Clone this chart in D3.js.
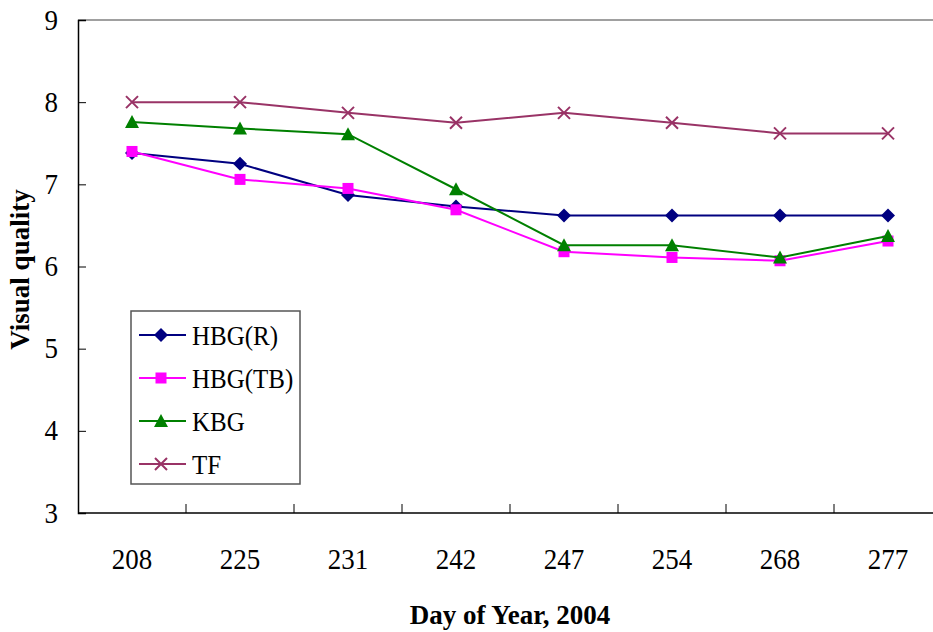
<!DOCTYPE html>
<html>
<head>
<meta charset="utf-8">
<script src="https://cdn.jsdelivr.net/npm/d3@7"></script>
<style>
  body { margin: 0; background: #fff; }
  svg { display: block; }
  svg text { font-family: "Liberation Serif", "Times New Roman", serif; fill: #000; }
</style>
</head>
<body>
<div id="chart"></div>
<script>
const width = 933;
const height = 632;
const margin = {top: 20, bottom: 119, left: 78, right: -9}; // plot runs off the right edge

// data
const days = ["208", "225", "231", "242", "247", "254", "268", "277"];
const hbgR = [7.38, 7.25, 6.87, 6.73, 6.62, 6.62, 6.62, 6.62];
const hbgTB = [7.40, 7.06, 6.95, 6.69, 6.18, 6.11, 6.07, 6.31];
const kbg = [7.76, 7.68, 7.61, 6.94, 6.26, 6.26, 6.11, 6.37];
const tf = [8.00, 8.00, 7.87, 7.75, 7.87, 7.75, 7.62, 7.62];
const yTicks = [3, 4, 5, 6, 7, 8, 9];

const series = [
    {name: "HBG(R)", values: hbgR, color: "#000080", symbol: "diamond"},
    {name: "HBG(TB)", values: hbgTB, color: "#FF00FF", symbol: "square"},
    {name: "KBG", values: kbg, color: "#008000", symbol: "triangle"},
    {name: "TF", values: tf, color: "#993366", symbol: "cross"}
];

const svg = d3.select("#chart").append("svg")
    .attr("width", width)
    .attr("height", height);

const x = d3.scaleBand()
    .domain(days)
    .range([margin.left, width - margin.right]);

const y = d3.scaleLinear()
    .domain([3, 9])
    .range([height - margin.bottom, margin.top]);

// top frame line (gray)
svg.append("line")
    .attr("x1", margin.left).attr("x2", width)
    .attr("y1", margin.top).attr("y2", margin.top)
    .attr("stroke", "#808080").attr("stroke-width", 1.5);

// y axis, ticks pointing inward
const yAxis = svg.append("g")
    .attr("transform", `translate(${margin.left},0)`)
    .call(d3.axisLeft(y).tickValues(yTicks).tickSize(-8).tickPadding(20).tickFormat(d3.format("d")));
yAxis.attr("font-family", null);
yAxis.select(".domain").attr("stroke", "#000").attr("stroke-width", 1.5);
yAxis.selectAll(".tick line").attr("stroke", "#000");
yAxis.selectAll(".tick text")
    .attr("font-size", 27)
    .attr("fill", "#000")
    .attr("dy", null)
    .attr("transform", "translate(0,9) scale(1,1.12)");

// x axis, ticks between categories pointing up
const xAxis = svg.append("g")
    .attr("transform", `translate(0,${height - margin.bottom})`);
xAxis.append("line")
    .attr("x1", margin.left).attr("x2", width)
    .attr("stroke", "#000").attr("stroke-width", 1.5);
xAxis.selectAll("line.tk")
    .data(days.slice(1))
    .join("line")
    .attr("class", "tk")
    .attr("x1", d => x(d)).attr("x2", d => x(d))
    .attr("y1", 0).attr("y2", -9)
    .attr("stroke", "#000");
xAxis.selectAll("text")
    .data(days)
    .join("text")
    .attr("transform", d => `translate(${x(d) + x.bandwidth() / 2},56) scale(1,1.12)`)
    .attr("text-anchor", "middle")
    .attr("font-size", 27)
    .text(d => d);

// axis titles
svg.append("text")
    .attr("transform", `translate(29,${(y(3) + y(9)) / 2 + 3}) rotate(-90)`)
    .attr("text-anchor", "middle")
    .attr("font-size", 27)
    .attr("font-weight", "bold")
    .text("Visual quality");

svg.append("text")
    .attr("x", 510)
    .attr("y", 624)
    .attr("text-anchor", "middle")
    .attr("font-size", 27)
    .attr("font-weight", "bold")
    .text("Day of Year, 2004");

const cx = d => x(d) + x.bandwidth() / 2;

function drawSymbol(g, type, color) {
    if (type === "diamond") {
        g.append("path").attr("d", "M0,-7L7,0L0,7L-7,0Z").attr("fill", color);
    } else if (type === "square") {
        g.append("rect").attr("x", -5.5).attr("y", -5.5).attr("width", 11).attr("height", 11).attr("fill", color);
    } else if (type === "triangle") {
        g.append("path").attr("d", "M0,-7L7,6L-7,6Z").attr("fill", color);
    } else {
        g.append("path").attr("d", "M-6,-6L6,6M-6,6L6,-6")
            .attr("stroke", color).attr("stroke-width", 2).attr("fill", "none");
    }
}

const line = d3.line()
    .x((d, i) => cx(days[i]))
    .y(d => y(d));

series.forEach(s => {
    const g = svg.append("g");
    g.append("path")
        .datum(s.values)
        .attr("d", line)
        .attr("fill", "none")
        .attr("stroke", s.color)
        .attr("stroke-width", 2);
    g.selectAll("g.pt")
        .data(s.values)
        .join("g")
        .attr("class", "pt")
        .attr("transform", (d, i) => `translate(${cx(days[i])},${y(d)})`)
        .each(function() { drawSymbol(d3.select(this), s.symbol, s.color); });
});

// legend
const legend = svg.append("g").attr("transform", "translate(131,311)");
legend.append("rect")
    .attr("width", 169).attr("height", 173)
    .attr("fill", "#fff")
    .attr("stroke", "#555").attr("stroke-width", 1.5);
series.forEach((s, i) => {
    const row = legend.append("g").attr("transform", `translate(0,${24 + i * 43})`);
    row.append("line")
        .attr("x1", 8).attr("x2", 55)
        .attr("stroke", s.color).attr("stroke-width", 2);
    const m = row.append("g").attr("transform", "translate(30,0)");
    drawSymbol(m, s.symbol, s.color);
    row.append("text")
        .attr("transform", "translate(61,10) scale(1,1.12)")
        .attr("font-size", 25)
        .text(s.name);
});
</script>
</body>
</html>
